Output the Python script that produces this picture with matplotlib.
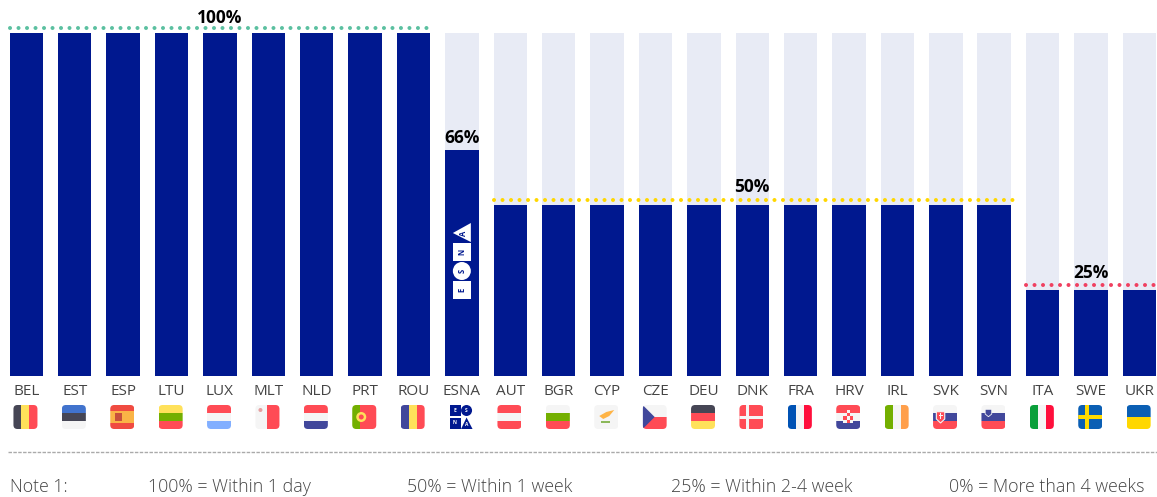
import matplotlib
matplotlib.use("Agg")
import matplotlib.pyplot as plt
from matplotlib.patches import FancyBboxPatch, Rectangle, Circle, Polygon
from matplotlib.transforms import offset_copy

W, H = 1157, 497
plt.rcParams['font.family'] = ['Open Sans', 'DejaVu Sans']

# data
countries = ["BEL", "EST", "ESP", "LTU", "LUX", "MLT", "NLD", "PRT", "ROU", "ESNA",
             "AUT", "BGR", "CYP", "CZE", "DEU", "DNK", "FRA", "HRV", "IRL", "SVK", "SVN",
             "ITA", "SWE", "UKR"]
values = [100, 100, 100, 100, 100, 100, 100, 100, 100, 66,
          50, 50, 50, 50, 50, 50, 50, 50, 50, 50, 50,
          25, 25, 25]
max_value = [100] * len(countries)
group_labels = ["100%", "50%", "25%"]
group_values = [100, 50, 25]
notes = ["Note 1:", "100% = Within 1 day", "50% = Within 1 week",
         "25% = Within 2-4 week", "0% = More than 4 weeks"]

NAVY = "#00188F"
RED, WHITE, DARK, YEL, GRN, BLU = "#FF4B55", "#F5F5F5", "#464655", "#FFE15A", "#73AF00", "#41479B"
flags = {
    "BEL": ("v", [DARK, YEL, RED]), "EST": ("h", ["#4173CD", DARK, WHITE]),
    "ESP": ("h", ["#F04B41", "#FAB446", "#FAB446", "#F04B41"]), "LTU": ("h", [YEL, GRN, RED]),
    "LUX": ("h", [RED, WHITE, "#82AFFF"]), "MLT": ("v", [WHITE, RED]),
    "NLD": ("h", [RED, WHITE, BLU]), "PRT": ("v", [GRN, RED, RED]),
    "ROU": ("v", [BLU, YEL, RED]), "ESNA": ("h", ["#FFFFFF"]),
    "AUT": ("h", [RED, WHITE, RED]), "BGR": ("h", [WHITE, GRN, RED]),
    "CYP": ("h", [WHITE]), "CZE": ("h", [WHITE, RED]),
    "DEU": ("h", [DARK, RED, YEL]), "DNK": ("h", [RED]),
    "FRA": ("v", ["#0052B4", WHITE, "#FF0F3C"]), "HRV": ("h", [RED, WHITE, BLU]),
    "IRL": ("v", [GRN, WHITE, "#FF9F4B"]), "SVK": ("h", [WHITE, BLU, RED]),
    "SVN": ("h", [WHITE, BLU, RED]), "ITA": ("v", ["#0A9F3A", WHITE, "#FF0F3C"]),
    "SWE": ("h", ["#0B5FB4"]), "UKR": ("h", ["#0B5FB4", "#FFD700"]),
}

fig = plt.figure(figsize=(W / 100, H / 100), dpi=100)
ax = fig.add_axes([0, (H - 376) / H, 1, 343 / H])
pitch = 48.4
first = 26.25
x = list(range(len(countries)))
ax.bar(x, max_value, width=33.5 / pitch, color="#E8EBF5")
ax.bar(x, values, width=33.5 / pitch, color=NAVY)
ax.set_xlim(-first / pitch, (W - first) / pitch)
ax.set_ylim(0, 100)
ax.set_xticks(x, countries, fontsize=11, color="#444444")
ax.tick_params(axis="x", length=0, pad=6)
ax.set_yticks([])
for s in ax.spines.values():
    s.set_visible(False)

# dotted reference lines above the groups
line_tr = offset_copy(ax.transData, fig=fig, y=4.8, units="dots")
spans = [(0, 8, "#5BC0A0", 0.27), (10, 20, "#FFD700", 0.45), (21, 23, "#F04060", 0.45)]
label_at = [4.0, 15, 22.0]
label_off = [6, 8, 8]
for (a, b, c, ext), v, lab, lx, off in zip(spans, group_values, group_labels, label_at, label_off):
    ax.plot([a - 0.34, b + ext], [v, v], transform=line_tr, color=c, lw=2.9,
            linestyle=(0, (0.01, 2.1)), dash_capstyle="round", clip_on=False)
    ax.text(lx, v, lab, transform=offset_copy(ax.transData, fig=fig, y=off, units="dots"),
            ha="center", va="bottom", fontsize=12.5, fontweight="bold", color="black", clip_on=False)
ax.text(9, 66, "66%", ha="center", va="bottom", fontsize=12.5, fontweight="bold", color="black",
        transform=offset_copy(ax.transData, fig=fig, y=3, units="dots"))

# pixel overlay for flags, logo and the notes
ov = fig.add_axes([0, 0, 1, 1], facecolor="none")
ov.set_xlim(0, W)
ov.set_ylim(H, 0)
ov.axis("off")


def flag(cx, code):
    x0, y0, s = cx - 12, 405, 24
    orient, cols = flags[code]
    box = FancyBboxPatch((x0 + 4, y0 + 4), s - 8, s - 8, boxstyle="round,pad=4,rounding_size=4",
                         fc="none", ec="none")
    ov.add_patch(box)
    parts = []
    n = len(cols)
    for i, c in enumerate(cols):
        if orient == "h":
            parts.append(Rectangle((x0, y0 + i * s / n), s, s / n + 0.3, fc=c, ec="none"))
        else:
            parts.append(Rectangle((x0 + i * s / n, y0), s / n + 0.3, s, fc=c, ec="none"))
    if code == "DNK":
        parts += [Rectangle((x0 + 7, y0), 3, s, fc=WHITE), Rectangle((x0, y0 + 10.5), s, 3, fc=WHITE)]
    if code == "SWE":
        parts += [Rectangle((x0 + 7, y0), 4, s, fc="#FFDA00"), Rectangle((x0, y0 + 10), s, 4, fc="#FFDA00")]
    if code == "CZE":
        parts.append(Polygon([(x0, y0), (x0 + 12, y0 + 12), (x0, y0 + s)], fc=BLU))
    if code == "PRT":
        parts += [Circle((x0 + 9, y0 + 12), 5, fc="#FFE15A"), Circle((x0 + 9, y0 + 12), 2.5, fc=RED)]
    if code == "ESP":
        parts.append(Rectangle((x0 + 5, y0 + 8), 7, 8, fc="#C8503C"))
    if code == "MLT":
        parts.append(Circle((x0 + 5, y0 + 5), 2, fc="#E6A0A0"))
    if code == "CYP":
        parts.append(Polygon([(x0 + 5, y0 + 11), (x0 + 12, y0 + 7), (x0 + 20, y0 + 5),
                              (x0 + 15, y0 + 11), (x0 + 9, y0 + 14)], fc="#FFB446"))
        parts.append(Rectangle((x0 + 7, y0 + 16), 9, 1.5, fc="#8CB85A"))
    if code == "HRV":
        parts.append(Rectangle((x0 + 7, y0 + 4.5), 10, 13.5, fc=WHITE, ec="none"))
        for r in range(4):
            for k in range(3):
                if (r + k) % 2 == 0:
                    parts.append(Rectangle((x0 + 7 + k * 3.3, y0 + 5 + r * 3.2), 3.3, 3.2, fc=RED, ec="none"))
    if code == "SVK":
        parts.append(Polygon([(x0 + 3.3, y0 + 6.7), (x0 + 11.7, y0 + 6.7), (x0 + 11.7, y0 + 14),
                              (x0 + 7.5, y0 + 18), (x0 + 3.3, y0 + 14)], fc=RED, ec=WHITE, lw=0.8))
        parts.append(Rectangle((x0 + 7, y0 + 8), 1, 6, fc=WHITE, ec="none"))
        parts.append(Rectangle((x0 + 5.5, y0 + 10), 4, 1, fc=WHITE, ec="none"))
    if code == "SVN":
        parts.append(Polygon([(x0 + 3.7, y0 + 4.3), (x0 + 10.3, y0 + 4.3), (x0 + 10.3, y0 + 9),
                              (x0 + 7, y0 + 11.7), (x0 + 3.7, y0 + 9)], fc=BLU, ec=WHITE, lw=0.6))
    for p in parts:
        ov.add_patch(p)
        p.set_clip_path(box)
    if code == "ESNA":
        g = 11
        ov.add_patch(Rectangle((x0 + 0.5, y0), g, g, fc=NAVY))
        ov.add_patch(Circle((x0 + 17.5, y0 + 5.5), 5.5, fc=NAVY))
        ov.add_patch(Rectangle((x0 + 0.5, y0 + 12.5), g, g, fc=NAVY))
        ov.add_patch(Polygon([(x0 + 12, y0 + 24), (x0 + 23.5, y0 + 24), (x0 + 17.5, y0 + 12.5)], fc=NAVY))
        for lt, (lx, ly) in zip("ESNA", [(6, 5.5), (17.5, 5.5), (6, 18), (17.5, 19.5)]):
            ov.text(x0 + lx, y0 + ly, lt, color="white", fontsize=3.5, fontweight="bold",
                    ha="center", va="center")


for i, c in enumerate(countries):
    flag(first + pitch * i - 0.8, c)

# ESNA logo inside the bar
lx = first + pitch * 9
ov.add_patch(Rectangle((lx - 9, 281), 18, 18, fc="white"))
ov.add_patch(Circle((lx, 271), 9, fc="white"))
ov.add_patch(Rectangle((lx - 9, 242.5), 18, 18, fc="white"))
ov.add_patch(Polygon([(lx + 9, 223), (lx + 9, 242), (lx - 9, 233)], fc="white"))
for lt, ly in zip("ESNA", [290, 271, 251.5, 233.5]):
    ov.text(lx + (2 if lt == "A" else 0), ly, lt, color=NAVY, fontsize=5.5, fontweight="bold",
            rotation=90, ha="center", va="center")

# notes
ov.plot([8, W], [452, 452], color="#AAAAAA", lw=1, linestyle=(0, (2.5, 1)))
for nx, t in zip([10, 148, 407, 671, 949], notes):
    ov.text(nx, 487, t, fontsize=12.8, fontweight="light", color="#444444", ha="left", va="center")

fig.savefig("out.png", dpi=100)
